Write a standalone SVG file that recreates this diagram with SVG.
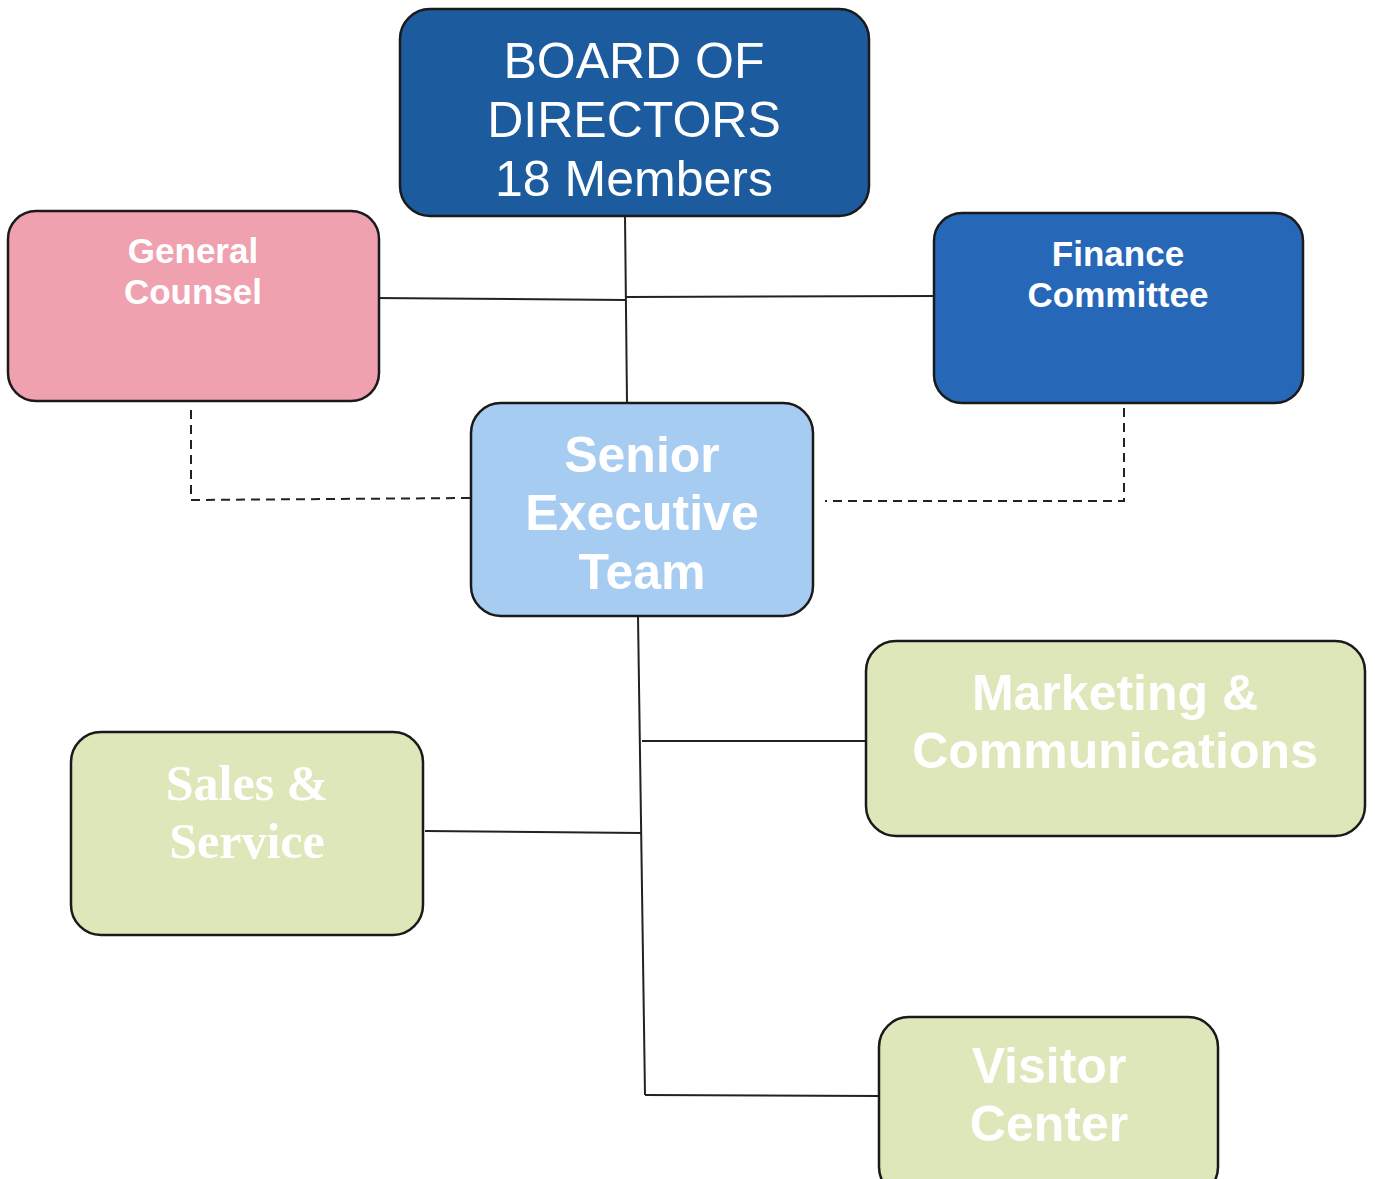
<svg xmlns="http://www.w3.org/2000/svg" width="1375" height="1179" viewBox="0 0 1375 1179">
<style>
.box{stroke:#1a1a1a;stroke-width:2.5}
.ln{stroke:#222;stroke-width:2;fill:none}
.dash{stroke:#222;stroke-width:2;fill:none;stroke-dasharray:9 6}
.t{fill:#fff;text-anchor:middle;font-family:"Liberation Sans",Arial,sans-serif}
.b{font-weight:bold}
.s{fill:#fff;text-anchor:middle;font-family:"Liberation Serif","Times New Roman",serif;font-weight:bold}
</style>
<rect width="1375" height="1179" fill="#fff"/>
<g id="connectors">
<path class="ln" d="M625 216 L627 403"/>
<path class="ln" d="M374 298 L626 300"/>
<path class="ln" d="M626 297 L938 296"/>
<path class="dash" d="M191 410 L191 500 L470 498"/>
<path class="dash" d="M1124 408 L1124 501 L825 501"/>
<path class="ln" d="M638 616 L645 1095"/>
<path class="ln" d="M642 741 L866 741"/>
<path class="ln" d="M425 831 L641 833"/>
<path class="ln" d="M645 1095 L879 1096"/>
</g>
<g id="board">
<rect class="box" x="400" y="9" width="469" height="207" rx="30" fill="#1C5B9D"/>
<text class="t" x="634" y="78" font-size="50">BOARD OF</text>
<text class="t" x="634" y="137" font-size="50">DIRECTORS</text>
<text class="t" x="634" y="196" font-size="50">18 Members</text>
</g>
<g id="general-counsel">
<rect class="box" x="8" y="211" width="371" height="190" rx="28" fill="#F0A1B0"/>
<text class="t b" x="193" y="263" font-size="35">General</text>
<text class="t b" x="193" y="304" font-size="35">Counsel</text>
</g>
<g id="finance-committee">
<rect class="box" x="934" y="213" width="369" height="190" rx="28" fill="#2668B7"/>
<text class="t b" x="1118" y="266" font-size="35">Finance</text>
<text class="t b" x="1118" y="307" font-size="35">Committee</text>
</g>
<g id="senior-executive-team">
<rect class="box" x="471" y="403" width="342" height="213" rx="30" fill="#A7CCF1"/>
<text class="t b" x="642" y="472" font-size="50">Senior</text>
<text class="t b" x="642" y="530" font-size="50">Executive</text>
<text class="t b" x="642" y="589" font-size="50">Team</text>
</g>
<g id="marketing-communications">
<rect class="box" x="866" y="641" width="499" height="195" rx="30" fill="#DEE7B9"/>
<text class="t b" x="1115" y="710" font-size="50">Marketing &amp;</text>
<text class="t b" x="1115" y="768" font-size="50">Communications</text>
</g>
<g id="sales-service">
<rect class="box" x="71" y="732" width="352" height="203" rx="30" fill="#DEE7B9"/>
<text class="s" x="247" y="800" font-size="50">Sales &amp;</text>
<text class="s" x="247" y="858" font-size="50">Service</text>
</g>
<g id="visitor-center">
<rect class="box" x="879" y="1017" width="339" height="180" rx="30" fill="#DEE7B9"/>
<text class="t b" x="1049" y="1083" font-size="50">Visitor</text>
<text class="t b" x="1049" y="1141" font-size="50">Center</text>
</g>
</svg>
